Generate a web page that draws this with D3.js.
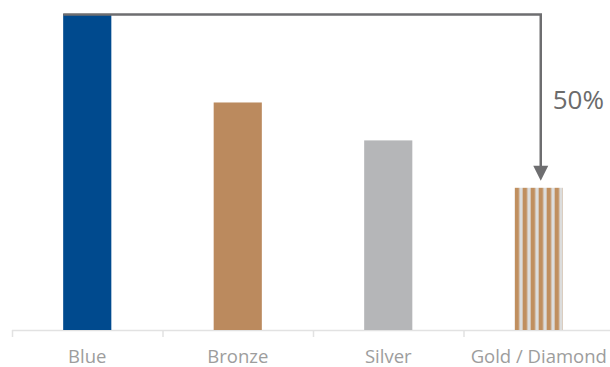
<!DOCTYPE html>
<html>
<head>
<meta charset="utf-8">
<script src="https://cdn.jsdelivr.net/npm/d3@7"></script>
<style>
  body { margin: 0; background: #fff; }
  svg { display: block; font-family: "Open Sans", sans-serif; }
</style>
</head>
<body>
<svg width="610" height="367"></svg>
<script>
var categories = ["Blue", "Bronze", "Silver", "Gold / Diamond"];
var values = [100, 72, 60, 45];
var colors = ["#004a8e", "#bb8a5e", "#b5b6b8", "url(#stripes)"];
var dropLabel = "50%";

var svg = d3.select("svg"),
    width = +svg.attr("width"),
    height = +svg.attr("height");

var x = d3.scaleBand().domain(categories).range([12, 614]);
var y = d3.scaleLinear().domain([0, 100]).range([330, 14]);
var barW = x.bandwidth() * 0.32;

function barX(d) { return x(d) + (x.bandwidth() - barW) / 2; }

// stripes for gold / diamond
var defs = svg.append("defs");
var pat = defs.append("pattern")
    .attr("id", "stripes")
    .attr("patternUnits", "userSpaceOnUse")
    .attr("x", barX(categories[3]))
    .attr("width", 8).attr("height", 10);
pat.append("rect").attr("width", 8).attr("height", 10).attr("fill", "#dcdddd");
pat.append("rect").attr("width", 4.5).attr("height", 10).attr("fill", "#c08f5f");

// axis
svg.append("line")
    .attr("x1", x.range()[0]).attr("x2", width)
    .attr("y1", y(0) + 0.5).attr("y2", y(0) + 0.5)
    .attr("stroke", "#e2e2e2").attr("stroke-width", 1.5);

svg.append("g").selectAll("line")
    .data(categories)
    .enter().append("line")
    .attr("x1", function(d) { return x(d) + 0.5; })
    .attr("x2", function(d) { return x(d) + 0.5; })
    .attr("y1", y(0)).attr("y2", y(0) + 7)
    .attr("stroke", "#e2e2e2").attr("stroke-width", 1.5);

svg.append("g")
    .attr("transform", "translate(0," + y(0) + ")")
    .call(d3.axisBottom(x).tickSize(0).tickPadding(20))
    .call(function(g) {
        g.select(".domain").remove();
        g.selectAll("text")
            .attr("font-family", "Open Sans, sans-serif")
            .attr("font-size", 18.5)
            .attr("fill", "#9d9d9d");
    });

// bars
svg.append("g").selectAll("rect")
    .data(categories)
    .enter().append("rect")
    .attr("x", barX)
    .attr("width", barW)
    .attr("y", function(d, i) { return y(values[i]); })
    .attr("height", function(d, i) { return y(0) - y(values[i]); })
    .attr("fill", function(d, i) { return colors[i]; });

// annotation arrow
var ax = barX(categories[3]) + barW / 2 + 2;
var tipY = y(values[3]) - 7;
svg.append("path")
    .attr("d", "M" + barX(categories[0]) + "," + (y(100) + 0.5) +
               "H" + ax + "V" + (tipY - 12))
    .attr("fill", "none")
    .attr("stroke", "#6e6e70")
    .attr("stroke-width", 2.5);
svg.append("path")
    .attr("d", "M" + (ax - 7.5) + "," + (tipY - 15) + "L" + (ax + 7.5) + "," + (tipY - 15) +
               "L" + ax + "," + tipY + "Z")
    .attr("fill", "#6e6e70");

svg.append("text")
    .attr("x", ax + 12)
    .attr("y", 109)
    .attr("font-size", 26)
    .attr("fill", "#6b6b6b")
    .text(dropLabel);
</script>
</body>
</html>
